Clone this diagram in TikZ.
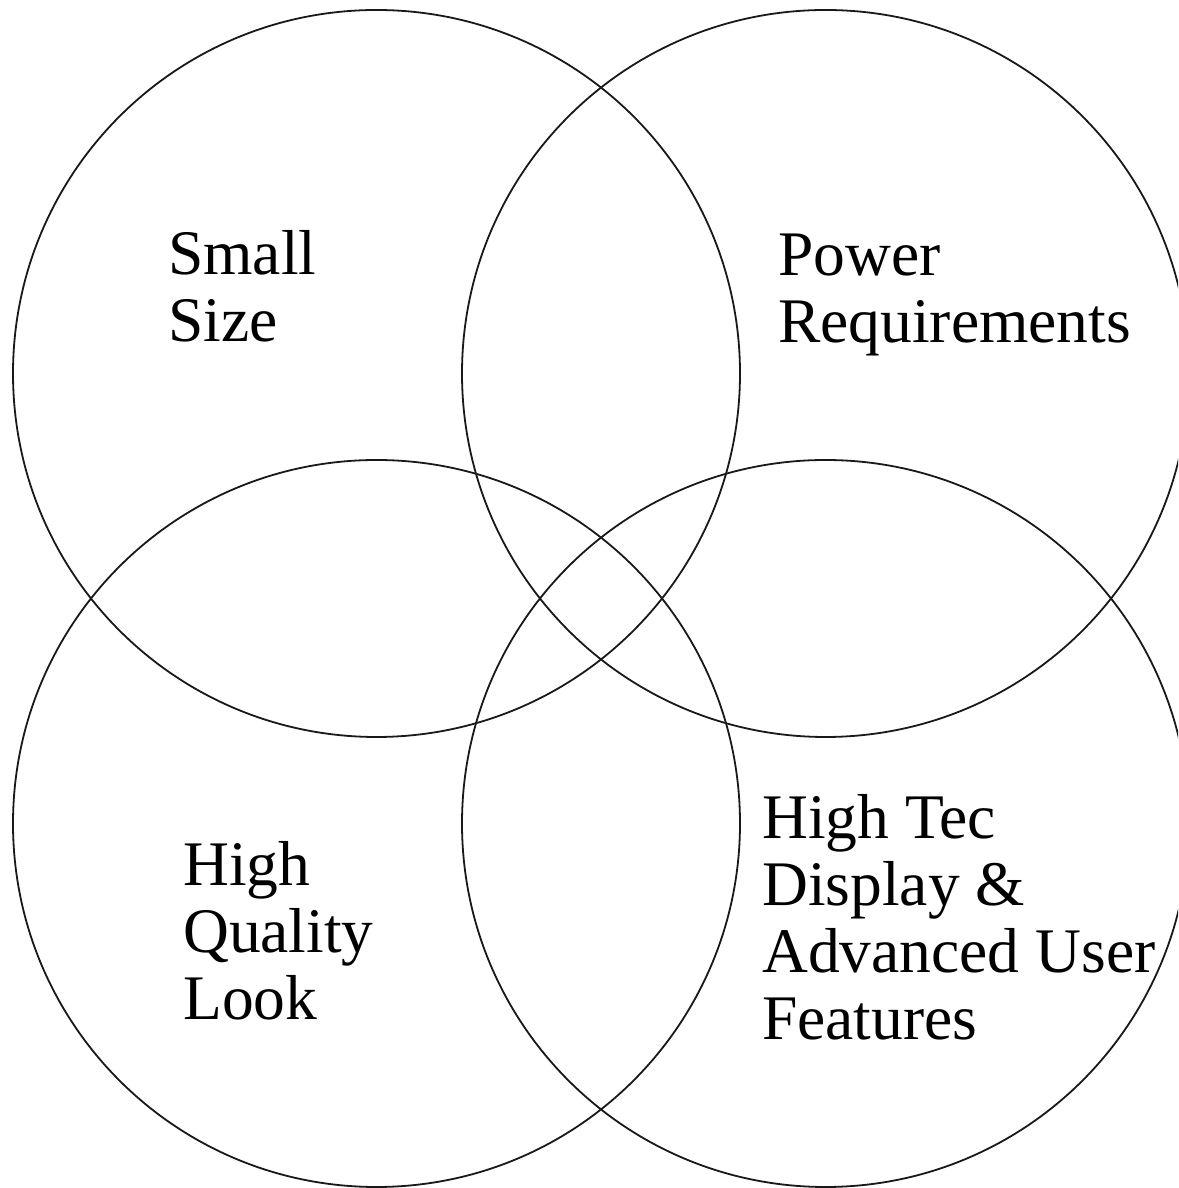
\documentclass[tikz,border=0pt]{standalone}
\usepackage{fontspec}
\setmainfont{Liberation Serif}
\begin{document}
\begin{tikzpicture}[x=1pt,y=1pt,
  ring/.style={circle, draw=black!90, line width=1.8pt, minimum size=727pt, inner sep=0pt},
  label/.style={anchor=base west, inner sep=0pt, align=left,
    font=\fontsize{63.5}{67}\selectfont}]
  % canvas
  \path[use as bounding box, clip] (0,0) rectangle (1178,1188);
  \fill[white] (0,0) rectangle (1178,1188);
  % the four overlapping sets
  \node[ring] (tl) at (376.5,814.5) {};
  \node[ring] (tr) at (825.5,814.5) {};
  \node[ring] (bl) at (376.5,364.5) {};
  \node[ring] (br) at (825.5,364.5) {};
  % set names (anchored at the baseline of their last line)
  \node[label] (size)  at (168,846) {Small\\Size};
  \node[label] (power) at (778,845) {Power\\Requirements};
  \node[label] (look)  at (183,168) {High\\Quality\\Look};
  \node[label] (tech)  at (762,148) {High Tec\\Display \&\\Advanced User\\Features};
\end{tikzpicture}
\end{document}
